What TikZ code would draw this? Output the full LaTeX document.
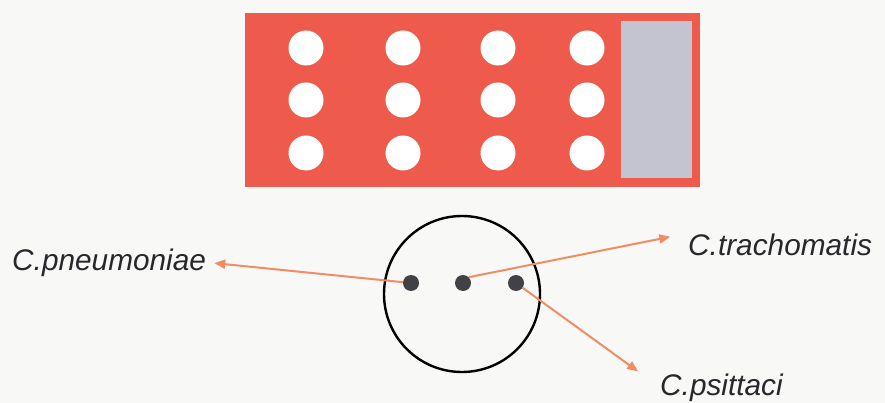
\documentclass[tikz,border=0pt]{standalone}
\usepackage{fontspec}
\setmainfont{Liberation Sans}
\usepackage{tikz}
\usetikzlibrary{arrows.meta}

\definecolor{slidered}{RGB}{238,90,76}
\definecolor{padgray}{RGB}{196,196,208}
\definecolor{arroworange}{RGB}{242,140,100}
\definecolor{spotgray}{RGB}{66,66,70}
\definecolor{labelgray}{RGB}{40,40,44}
\definecolor{paper}{RGB}{248,248,247}

\begin{document}
\begin{tikzpicture}[
  x=1pt, y=-1pt,
  well/.style={circle, fill=white, inner sep=0pt, minimum size=35pt},
  spot/.style={circle, fill=spotgray, inner sep=0pt, minimum size=16pt},
  species/.style={font=\fontsize{29.8}{34}\selectfont\itshape, text=labelgray, inner sep=0pt},
  line/.style={draw, -{Triangle[length=11pt,width=9pt]}, line width=2pt, color=arroworange}
]

  \fill[paper] (0,0) rectangle (885,403);
  \useasboundingbox (0,0) rectangle (885,403);

  % slide with 12 wells and the grey pad
  \fill[slidered] (245,13) rectangle (700,187);
  \fill[padgray] (621,21) rectangle (692,178);
  \foreach \x [count=\i] in {306,403,498,587}
    \foreach \y [count=\j] in {48,100,153}
      \node [well] (w-\i-\j) at (\x,\y) {};

  % one well, enlarged
  \node [circle, draw, line width=2.4pt, minimum size=156pt] (field) at (462,294) {};
  \node [spot] (lspot) at (411,283) {};
  \node [spot] (mspot) at (463,283) {};
  \node [spot] (rspot) at (516,283) {};

  \node [species, anchor=base west] (pneu) at (12,270) {C.pneumoniae};
  \node [species, anchor=base west] (trach) at (688,255) {C.trachomatis};
  \node [species, anchor=base west] (psit) at (660,395) {C.psittaci};

  \path [line, shorten >=8pt] (lspot) -- (pneu.east);
  \path [line, shorten >=18pt] (mspot.north east) -- (trach.north west);
  \path [line, shorten >=27pt] (rspot) -- (psit.west);

\end{tikzpicture}
\end{document}
